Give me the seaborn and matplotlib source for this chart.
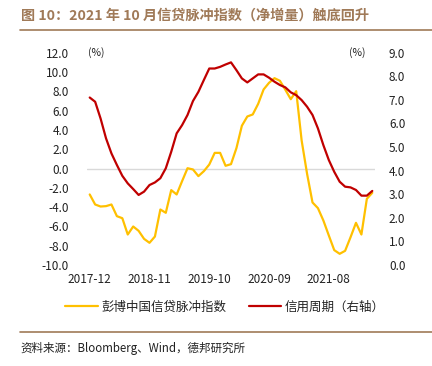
import matplotlib
matplotlib.use("Agg")
import matplotlib.pyplot as plt
import seaborn as sns
import numpy as np
import pandas as pd

sns.set_style("white")
plt.rcParams['font.family'] = ['Noto Sans CJK SC', 'DejaVu Sans']

# Monthly categories 2017-12 .. 2022-04
months = pd.period_range("2017-12", "2022-04", freq="M").strftime("%Y-%m").tolist()
tick_labels = ["2017-12", "2018-11", "2019-10", "2020-09", "2021-08"]

credit_impulse = [-2.69, -3.73, -3.94, -3.90, -3.73, -4.94, -5.15, -6.84, -6.01, -6.46,
                  -7.29, -7.70, -7.05, -4.25, -4.59, -2.24, -2.69, -1.31, 0.03, -0.10,
                  -0.79, -0.28, 0.41, 1.62, 1.62, 0.28, 0.45, 2.11, 4.43, 5.39,
                  5.60, 6.70, 8.19, 8.88, 9.36, 9.09, 8.16, 7.18, 8.01, 2.90,
                  -0.55, -3.52, -4.11, -5.39, -6.94, -8.46, -8.84, -8.53, -7.12, -5.63,
                  -6.84, -3.14, -2.52]
credit_cycle = [7.10, 6.92, 6.21, 5.37, 4.73, 4.24, 3.78, 3.46, 3.22, 2.97,
                3.11, 3.39, 3.50, 3.68, 4.10, 4.80, 5.58, 5.93, 6.36, 6.95,
                7.34, 7.84, 8.33, 8.33, 8.40, 8.50, 8.59, 8.26, 7.91, 7.74,
                7.91, 8.08, 8.08, 7.94, 7.77, 7.63, 7.53, 7.32, 7.20, 6.99,
                6.71, 6.36, 5.79, 5.08, 4.45, 3.95, 3.53, 3.32, 3.29, 3.18,
                2.94, 2.94, 3.14]

yellow = "#FFC000"
red = "#C00000"
brown = "#A07A58"
txt = "#222222"

df = pd.DataFrame({"idx": np.arange(len(months)), "month": months,
                   "impulse": credit_impulse, "cycle": credit_cycle})

fig = plt.figure(figsize=(4.32, 3.66), dpi=100)
ax = fig.add_axes([87/432, 1-265/366, 288/432, (265-52.7)/366])
ax2 = ax.twinx()

ax.axhline(0, color="#D9D9D9", lw=1.0, zorder=1)
sns.lineplot(data=df, x="idx", y="impulse", ax=ax, color=yellow, lw=1.6, zorder=3)
sns.lineplot(data=df, x="idx", y="cycle", ax=ax2, color=red, lw=1.6, zorder=3)

ax.set_xlim(-0.5, len(months) - 0.5)
ax.set_ylim(-10, 12)
ax.set_yticks(np.arange(-10, 12.1, 2))
ax.set_yticklabels([f"{v:.1f}" for v in np.arange(-10, 12.1, 2)])
ax2.set_ylim(0, 9)
ax2.set_yticks(np.arange(0, 9.1, 1))
ax2.set_yticklabels([f"{v:.1f}" for v in np.arange(0, 9.1, 1)])
ax.set_xticks([months.index(t) for t in tick_labels])
ax.set_xticklabels(tick_labels)

for a in (ax, ax2):
    a.set_xlabel("")
    a.set_ylabel("")
    for s in a.spines.values():
        s.set_visible(False)
    a.tick_params(length=0, labelsize=8.5, colors=txt)
ax.tick_params(axis="y", pad=13)
ax.tick_params(axis="x", pad=6)
ax2.tick_params(axis="y", pad=10)
ax.patch.set_visible(False)

fig.text(88/432, 1-53/366, "(%)", fontsize=7.5, color=txt, va="center", ha="left")
fig.text(366/432, 1-53/366, "(%)", fontsize=7.5, color=txt, va="center", ha="right")

# Title and rules
fig.text(21/432, 1-16/366, "图 10：2021 年 10 月信贷脉冲指数（净增量）触底回升",
         fontsize=10.2, fontweight="bold", color=brown, va="center", ha="left")
fig.add_artist(plt.Line2D([20/432, 1.0], [1-30/366, 1-30/366], color=brown, lw=1.2))
fig.add_artist(plt.Line2D([20/432, 1.0], [1-332/366, 1-332/366], color=brown, lw=1.2))
fig.text(20/432, 1-348/366, "资料来源：Bloomberg、Wind，德邦研究所",
         fontsize=8.3, color=txt, va="center", ha="left")

# Legend
from matplotlib.lines import Line2D
handles = [Line2D([], [], color=yellow, lw=1.6), Line2D([], [], color=red, lw=1.6)]
fig.legend(handles, ["彭博中国信贷脉冲指数", "信用周期（右轴）"],
           loc="center", bbox_to_anchor=(225/432, 1-307/366), ncol=2, frameon=False,
           fontsize=9, handlelength=2.6, handletextpad=0.3, columnspacing=1.8,
           labelcolor=txt)

fig.savefig("out.png", dpi=100)
